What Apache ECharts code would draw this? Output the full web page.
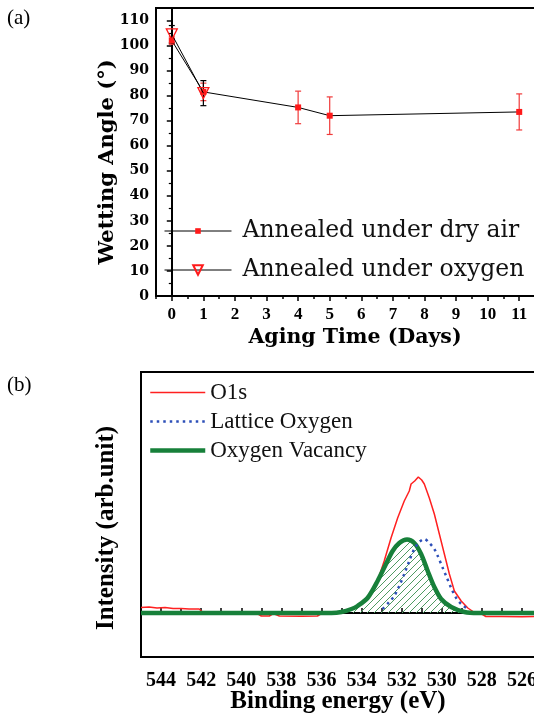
<!DOCTYPE html>
<html>
<head>
<meta charset="utf-8">
<title>Wetting angle / O1s</title>
<script src="https://cdn.jsdelivr.net/npm/echarts@6/dist/echarts.min.js"></script>
</head>
<body style="margin:0;background:#fff">
<div id="main" style="width:534px;height:719px;"></div>
<script>
// (a) wetting angle vs aging time
var agingDays = [0, 1, 4, 5, 11];
var dryAirAngle = [102, 81.5, 75.3, 72, 73.5];
var dryAirErr = [1.5, 3.5, 6.5, 7.5, 7.2];
var oxygenDays = [0, 1];
var oxygenAngle = [104.5, 81];
var oxygenErr = [3.5, 5];
var dayTicks = [0, 1, 2, 3, 4, 5, 6, 7, 8, 9, 10, 11];

// (b) O1s spectrum and its two fitted components
var o1sEnergy = [545, 544.6, 544.2, 543.8, 543.4, 543.0, 542.6, 542.1, 541.9, 541.0,
  540.0, 539.2, 539.0, 538.6, 538.4, 538.1, 537.0, 536.2, 536.0, 535.0,
  534.8, 534.5, 534.2, 533.87, 533.5, 533.2, 532.87, 532.53, 532.2, 531.87,
  531.62, 531.53, 531.35, 531.17, 531.0, 530.87, 530.62, 530.37, 530.12, 529.87,
  529.62, 529.37, 529.03, 528.7, 528.37, 528.0, 527.8, 527.0, 526.0, 525.0];
var o1sCounts = [5.5, 6, 5, 5.5, 4.5, 4.5, 4, 4, 0.5, 0.5,
  0, -0.5, -3, -3, -0.5, -3, -3.2, -3, -0.5, 0,
  1, 4, 7, 12, 20, 32, 52, 75, 95, 112,
  122, 129, 132, 136, 133, 129, 115, 99, 79, 59,
  39, 22, 12, 5, 0.5, -1, -3.5, -3.5, -3.8, -3.5];
var latticeEnergy = [532.95, 532.62, 532.37, 532.12, 531.87, 531.62, 531.37, 531.12, 530.87,
  530.62, 530.37, 530.2, 529.95, 529.78, 529.53, 529.28, 529.03, 528.7];
var latticeCounts = [4, 11, 17, 27, 39, 52, 64, 71, 74, 70, 64, 57, 45, 37, 25, 15, 9, 4];
var vacancyEnergy = [545, 535.5, 535.0, 534.5, 534.2, 533.7, 533.2, 532.78, 532.45, 532.12,
  531.73, 531.37, 531.03, 530.7, 530.37, 530.03, 529.53, 528.87, 528.2, 525];
var vacancyCounts = [0, 0, 1, 4, 7, 15, 32, 49, 62, 70, 73.5, 70, 59, 42, 26, 14, 6, 1, 0, 0];

function pairs(xs, ys) {
  return xs.map(function (x, i) { return [x, ys[i]]; });
}
function errRows(xs, ys, es) {
  return xs.map(function (x, i) { return [x, ys[i] - es[i], ys[i] + es[i]]; });
}
function errorBars(color) {
  return function (params, api) {
    var x = api.value(0);
    var lo = api.coord([x, api.value(1)]);
    var hi = api.coord([x, api.value(2)]);
    var w = 3;
    var st = { stroke: color, lineWidth: 1.2 };
    return {
      type: 'group',
      children: [
        { type: 'line', shape: { x1: lo[0], y1: lo[1], x2: hi[0], y2: hi[1] }, style: st },
        { type: 'line', shape: { x1: lo[0] - w, y1: lo[1], x2: lo[0] + w, y2: lo[1] }, style: st },
        { type: 'line', shape: { x1: hi[0] - w, y1: hi[1], x2: hi[0] + w, y2: hi[1] }, style: st }
      ]
    };
  };
}

// diagonal hatch for the oxygen vacancy area
var hatch = document.createElement('canvas');
hatch.width = 7;
hatch.height = 7;
var hc = hatch.getContext('2d');
hc.strokeStyle = '#4f9a62';
hc.lineWidth = 1;
hc.beginPath();
hc.moveTo(0, 7); hc.lineTo(7, 0);
hc.moveTo(-1, 1); hc.lineTo(1, -1);
hc.moveTo(6, 8); hc.lineTo(8, 6);
hc.stroke();

var serifA = 'DejaVu Serif';
var serifB = 'Liberation Serif';
var black = { lineStyle: { color: '#000', width: 2 } };
var topLegendText = { fontFamily: serifA, fontSize: 23.5, color: '#111', padding: [0, 0, 0, 6] };

var myChart = echarts.init(document.getElementById('main'));
myChart.setOption({
  animation: false,
  backgroundColor: '#fff',
  grid: [
    { left: 156, width: 379, top: 8, bottom: 423, outerBoundsMode: 'none', containLabel: false,
      show: true, borderColor: '#000', borderWidth: 2 },
    { left: 141, width: 401, top: 372, bottom: 62, outerBoundsMode: 'none', containLabel: false,
      show: true, borderColor: '#000', borderWidth: 2 }
  ],
  xAxis: [
    {
      gridIndex: 0, type: 'value', min: -0.5, max: 11.5, interval: 0.5, position: 'bottom',
      axisLine: black, splitLine: { show: false },
      axisTick: { inside: false, length: 3, lineStyle: { color: '#000', width: 1.5 } },
      axisLabel: {
        margin: 10, color: '#000', fontFamily: serifB, fontWeight: 'bold', fontSize: 17,
        formatter: function (v) { return v % 1 === 0 && v >= 0 ? String(v) : ''; }
      }
    },
    {
      gridIndex: 0, type: 'value', min: -0.5, max: 11.5, position: 'bottom',
      axisLine: { show: false }, splitLine: { show: false }, axisLabel: { show: false },
      axisTick: { customValues: dayTicks, length: 5, lineStyle: { color: '#000', width: 1.5 } }
    },
    {
      gridIndex: 1, type: 'value', min: 525, max: 545, interval: 1, inverse: true,
      axisLine: black, splitLine: { show: false },
      axisTick: { inside: true, length: 5, lineStyle: { color: '#000', width: 1.5 } },
      axisLabel: {
        margin: 14, color: '#000', fontFamily: serifB, fontWeight: 'bold', fontSize: 20,
        formatter: function (v) { return v % 2 === 0 ? String(v) : ''; }
      }
    }
  ],
  yAxis: [
    {
      gridIndex: 0, type: 'value', min: 0, max: 115, interval: 10,
      axisLine: black, splitLine: { show: false },
      axisTick: { length: 5, lineStyle: { color: '#000', width: 1.5 } },
      minorTick: { show: true, splitNumber: 2, length: 3, lineStyle: { color: '#000', width: 1.2 } },
      axisLabel: { margin: 7, color: '#000', fontFamily: serifA, fontWeight: 'bold', fontSize: 14, showMaxLabel: false }
    },
    {
      gridIndex: 1, type: 'value', min: -44, max: 241,
      axisLine: black, splitLine: { show: false },
      axisTick: { show: false }, axisLabel: { show: false }
    }
  ],
  legend: [
    {
      data: ['Annealed under dry air'], padding: 0,
      left: 164, top: 219, itemWidth: 67, itemHeight: 7,
      lineStyle: { width: 1 },
      textStyle: topLegendText
    },
    {
      data: ['Annealed under oxygen'], padding: 0,
      left: 164, top: 258, itemWidth: 67, itemHeight: 12,
      lineStyle: { width: 1 },
      textStyle: topLegendText
    },
    {
      data: [
        { name: 'O1s', lineStyle: { width: 1.5 } },
        { name: 'Lattice Oxygen', lineStyle: { width: 2.5 } },
        { name: 'Oxygen Vacancy', lineStyle: { width: 4.5 } }
      ],
      padding: 0,
      orient: 'vertical', left: 148, top: 381, itemWidth: 55, itemHeight: 12, itemGap: 6,
      itemStyle: { opacity: 0 },
      textStyle: { fontFamily: serifB, fontSize: 23, color: '#111' }
    }
  ],
  graphic: [
    { type: 'text', x: 7, y: 18, style: { text: '(a)', font: '21px "Liberation Serif"', fill: '#000', verticalAlign: 'middle' } },
    { type: 'text', x: 7, y: 385, style: { text: '(b)', font: '21px "Liberation Serif"', fill: '#000', verticalAlign: 'middle' } },
    { type: 'text', x: 355, y: 338, style: { text: 'Aging Time (Days)', font: 'bold 20.5px "DejaVu Serif"', fill: '#000', align: 'center', verticalAlign: 'middle' } },
    { type: 'text', x: 108, y: 162, rotation: Math.PI / 2, style: { text: 'Wetting Angle (°)', font: 'bold 21px "DejaVu Serif"', fill: '#000', align: 'center', verticalAlign: 'middle' } },
    { type: 'text', x: 338, y: 702, style: { text: 'Binding energy (eV)', font: 'bold 25px "Liberation Serif"', fill: '#000', align: 'center', verticalAlign: 'middle' } },
    { type: 'text', x: 107, y: 528, rotation: Math.PI / 2, style: { text: 'Intensity (arb.unit)', font: 'bold 25px "Liberation Serif"', fill: '#000', align: 'center', verticalAlign: 'middle' } }
  ],
  series: [
    {
      name: 'Annealed under dry air', type: 'line', xAxisIndex: 0, yAxisIndex: 0, z: 3,
      data: pairs(agingDays, dryAirAngle),
      symbol: 'rect', symbolSize: 6,
      itemStyle: { color: '#ff1a1a' },
      lineStyle: { color: '#000', width: 1 }
    },
    {
      name: 'Annealed under oxygen', type: 'line', xAxisIndex: 0, yAxisIndex: 0, z: 4,
      data: pairs(oxygenDays, oxygenAngle),
      symbol: 'triangle', symbolRotate: 180, symbolSize: 11,
      itemStyle: { color: 'rgba(255,255,255,0)', borderColor: '#ff1a1a', borderWidth: 1.3 },
      lineStyle: { color: '#000', width: 1 }
    },
    {
      name: 'dry air error', type: 'custom', xAxisIndex: 0, yAxisIndex: 0, z: 2,
      data: errRows(agingDays, dryAirAngle, dryAirErr),
      renderItem: errorBars('#f03a3a'), encode: { x: 0, y: [1, 2] }
    },
    {
      name: 'oxygen error', type: 'custom', xAxisIndex: 0, yAxisIndex: 0, z: 2,
      data: errRows(oxygenDays, oxygenAngle, oxygenErr),
      renderItem: errorBars('#000'), encode: { x: 0, y: [1, 2] }
    },
    {
      name: 'O1s', type: 'line', xAxisIndex: 2, yAxisIndex: 1,
      data: pairs(o1sEnergy, o1sCounts), symbol: 'none',
      lineStyle: { color: '#ff2020', width: 1.5 }, itemStyle: { color: '#ff2020' }
    },
    {
      name: 'Lattice Oxygen', type: 'line', xAxisIndex: 2, yAxisIndex: 1, z: 4,
      data: pairs(latticeEnergy, latticeCounts), symbol: 'none', smooth: 0.3,
      lineStyle: { color: '#2d4fb8', width: 2.5, type: [2.5, 4] }, itemStyle: { color: '#2d4fb8' }
    },
    {
      name: 'Oxygen Vacancy', type: 'line', xAxisIndex: 2, yAxisIndex: 1, z: 3,
      data: pairs(vacancyEnergy, vacancyCounts), symbol: 'none', smooth: 0.3,
      lineStyle: { color: '#17803a', width: 4.5 }, itemStyle: { color: '#17803a' },
      areaStyle: { color: { image: hatch, repeat: 'repeat' }, opacity: 1, origin: 0 }
    }
  ]
});
</script>
</body>
</html>
